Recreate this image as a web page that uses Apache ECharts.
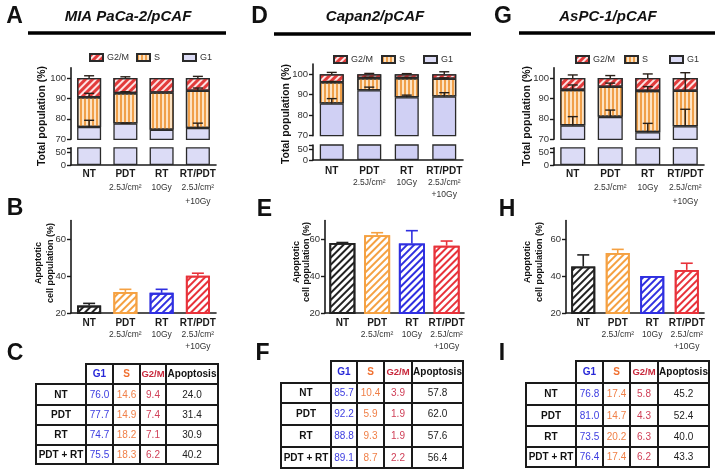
<!DOCTYPE html>
<html><head><meta charset="utf-8">
<script src="https://cdn.jsdelivr.net/npm/echarts@6/dist/echarts.min.js"></script>
<style>html,body{margin:0;padding:0;background:#fff}#c{width:723px;height:474px}</style>
</head><body><div id="c"></div>
<script>
// ---------- data ----------
const categories = ['NT', 'PDT', 'RT', 'RT/PDT'];
const categorySub = ['', '2.5J/cm²', '10Gy', '2.5J/cm²\n+10Gy'];
const phases = ['G2/M', 'S', 'G1'];
const panelTitles = ['MIA PaCa-2/pCAF', 'Capan2/pCAF', 'AsPC-1/pCAF'];
const topTicks = [70, 80, 90, 100];
const lowTicks = [0, 50];
const apopTicks = [20, 40, 60];
const tableRows = ['NT', 'PDT', 'RT', 'PDT + RT'];
const tableHeads = ['G1', 'S', 'G2/M', 'Apoptosis'];
const topYTitle = 'Total population (%)';
const apopYTitle = ['Apoptotic', 'cell population (%)'];

// MIA PaCa-2/pCAF
const miaG1 = [76.0, 77.7, 74.7, 75.5];
const miaS = [14.6, 14.9, 18.2, 18.3];
const miaG2M = [9.4, 7.4, 7.1, 6.2];
const miaG1Err = [3.3, 0.2, 0, 2.4];
const miaSErr = [1.9, 0.7, 0, 1.3];
const miaG2MErr = [1.1, 0.6, 0, 0.8];
const miaApop = [24.0, 31.4, 30.9, 40.2];
const miaApopErr = [1.2, 1.4, 1.9, 1.3];

// Capan2/pCAF
const capG1 = [85.7, 92.2, 88.8, 89.1];
const capS = [10.4, 5.9, 9.3, 8.7];
const capG2M = [3.9, 1.9, 1.9, 2.2];
const capG1Err = [2.4, 1.5, 1.0, 1.9];
const capSErr = [0.4, 0.4, 0.3, 0.4];
const capG2MErr = [0.9, 0.4, 0.3, 1.2];
const capApop = [57.8, 62.0, 57.6, 56.4];
const capApopErr = [0.3, 1.4, 6.9, 2.5];

// AsPC-1/pCAF
const aspG1 = [76.8, 81.0, 73.5, 76.4];
const aspS = [17.4, 14.7, 20.2, 17.4];
const aspG2M = [5.8, 4.3, 6.3, 6.2];
const aspG1Err = [4.3, 3.3, 4.3, 8.3];
const aspSErr = [2.4, 1.8, 2.1, 5.8];
const aspG2MErr = [1.5, 1.2, 2.0, 2.6];
const aspApop = [45.2, 52.4, 40.0, 43.3];
const aspApopErr = [6.2, 2.0, 0, 3.6];

// ---------- styling / layout ----------
const FONT = '"Liberation Sans", Arial, Helvetica, sans-serif';
const COL_G2M = '#e23b3b', COL_S = '#f0a04a';
const apopColors = ['#222222', '#f5a142', '#2f2fe0', '#e8323a'];
const headColors = ['#2828d8', '#f07030', '#c8283c', '#111111'];
const valColors = ['#3c3ce0', '#f08048', '#d04058', '#222222'];
const G1_COLORS = ['#dcdcf6', '#d0d0f4', '#dcdcf6'];

const datasets = [
  {g1: miaG1, s: miaS, g2m: miaG2M, g1e: miaG1Err, se: miaSErr, g2me: miaG2MErr, ap: miaApop, ape: miaApopErr},
  {g1: capG1, s: capS, g2m: capG2M, g1e: capG1Err, se: capSErr, g2me: capG2MErr, ap: capApop, ape: capApopErr},
  {g1: aspG1, s: aspS, g2m: aspG2M, g1e: aspG1Err, se: aspSErr, g2me: aspG2MErr, ap: aspApop, ape: aspApopErr}
];

const layouts = [
  { letters: [['A', 14.5, 16.5], ['B', 15, 208.5], ['C', 15, 353.5]],
    title: {x: 128, y: 17}, rule: {x1: 28, x2: 226, y: 33},
    leg: {y: 53, xs: [89, 136, 182]},
    top: {left: 71, width: 145, upTop: 67.8, upBot: 139.3, lowTop: 147.8, lowBot: 165, barW: 24, lh: 14, margin: 2},
    yTitle: {x: 42, y: 116},
    bot: {left: 71, width: 145, barW: 24},
    apTitle: {xs: [39, 51], y: 263},
    table: {xs: [36, 86, 113, 140, 166, 218], ys: [364, 384, 405, 425, 445, 464]} },
  { letters: [['D', 259.5, 16.5], ['E', 264.5, 209.5], ['F', 262.5, 353.5]],
    title: {x: 375, y: 17}, rule: {x1: 274, x2: 471, y: 34},
    leg: {y: 55, xs: [333, 381, 423]},
    top: {left: 313, width: 150, upTop: 64, upBot: 135.7, lowTop: 145, lowBot: 160, barW: 24, lh: 12, margin: 5},
    yTitle: {x: 286, y: 114},
    bot: {left: 325, width: 139, barW: 26},
    apTitle: {xs: [297, 307], y: 262},
    table: {xs: [281, 331, 357, 384, 412, 463], ys: [361, 383, 403, 425, 447, 468]} },
  { letters: [['G', 503, 16.5], ['H', 507, 210], ['I', 502, 353.5]],
    title: {x: 608, y: 17}, rule: {x1: 519, x2: 715, y: 33},
    leg: {y: 55, xs: [575, 624, 669]},
    top: {left: 554, width: 150, upTop: 67.8, upBot: 139.3, lowTop: 147.8, lowBot: 165, barW: 25, lh: 14, margin: 2},
    yTitle: {x: 527, y: 116},
    bot: {left: 566, width: 138, barW: 24},
    apTitle: {xs: [528, 540], y: 262},
    table: {xs: [526, 576, 603, 630, 658, 709], ys: [361, 383, 405, 426, 447, 467]} }
];

function phaseStyle(ph, i) {
  const base = {borderColor: '#2a2a2a', borderWidth: 1.3};
  if (ph === 'G1') return Object.assign({color: G1_COLORS[i]}, base);
  if (ph === 'S') return Object.assign({color: '#fde3c3',
    decal: {symbol: 'rect', symbolSize: 1, dashArrayX: [2, 2], dashArrayY: [1, 0], color: COL_S}}, base);
  return Object.assign({color: '#fde2e2',
    decal: {symbol: 'rect', symbolSize: 1, dashArrayX: [1, 0], dashArrayY: [2.5, 2], rotation: -Math.PI / 4, color: COL_G2M}}, base);
}

function catLabel(lh, fsB, fsN) {
  return {
    interval: 0, fontFamily: FONT,
    formatter: function (v) {
      let s = '{b|' + v + '}';
      const sub = categorySub[categories.indexOf(v)];
      if (sub) sub.split('\n').forEach(l => { s += '\n{n|' + l + '}'; });
      return s;
    },
    rich: {
      b: {fontWeight: 'bold', fontSize: fsB, lineHeight: lh, color: '#1a1a1a', fontFamily: FONT},
      n: {fontSize: fsN, lineHeight: lh, color: '#333', fontFamily: FONT}
    }
  };
}

function errRender(capHalf, colorFn, lw) {
  return function (params, api) {
    const k = api.value(0), lo = api.value(1), hi = api.value(2);
    if (!(hi > lo)) return null;
    const p0 = api.coord([k, lo]), p1 = api.coord([k, hi]);
    const col = colorFn(k);
    return {type: 'group', children: [
      {type: 'line', shape: {x1: p0[0], y1: p0[1], x2: p1[0], y2: p1[1]}, style: {stroke: col, lineWidth: lw}},
      {type: 'line', shape: {x1: p1[0] - capHalf, y1: p1[1], x2: p1[0] + capHalf, y2: p1[1]}, style: {stroke: col, lineWidth: lw}}
    ]};
  };
}

const axisLineStyle = {color: '#1a1a1a', width: 1.6};
const grid = [], xAxis = [], yAxis = [], series = [], legend = [], graphic = [];

datasets.forEach((d, i) => {
  const L = layouts[i];
  const gi = i * 3;
  grid.push({left: L.top.left, top: L.top.upTop, width: L.top.width, height: L.top.upBot - L.top.upTop, outerBoundsMode: 'none', containLabel: false});
  grid.push({left: L.top.left, top: L.top.lowTop, width: L.top.width, height: L.top.lowBot - L.top.lowTop, outerBoundsMode: 'none', containLabel: false});
  grid.push({left: L.bot.left, top: 220.5, width: L.bot.width, height: 92.5, outerBoundsMode: 'none', containLabel: false});
  xAxis.push({type: 'category', gridIndex: gi, data: categories, axisLine: {show: false}, axisTick: {show: false}, axisLabel: {show: false}, splitLine: {show: false}});
  xAxis.push({type: 'category', gridIndex: gi + 1, data: categories, axisLine: {show: true, lineStyle: axisLineStyle}, axisTick: {show: false},
    axisLabel: Object.assign({margin: L.top.margin}, catLabel(L.top.lh, 10, 8.5)), splitLine: {show: false}});
  xAxis.push({type: 'category', gridIndex: gi + 2, data: categories, axisLine: {show: true, lineStyle: axisLineStyle}, axisTick: {show: false},
    axisLabel: Object.assign({margin: 4}, catLabel(12, 10, 8.5)), splitLine: {show: false}});
  const yCommon = {type: 'value', splitLine: {show: false},
    axisLine: {show: true, lineStyle: axisLineStyle},
    axisTick: {show: true, length: 4, lineStyle: {color: '#1a1a1a', width: 1.4}}};
  yAxis.push(Object.assign({}, yCommon, {gridIndex: gi, min: 70, max: 105,
    axisTick: Object.assign({}, yCommon.axisTick, {customValues: topTicks}),
    axisLabel: {customValues: topTicks, fontSize: 9.5, color: '#333', margin: 5, fontFamily: FONT}}));
  yAxis.push(Object.assign({}, yCommon, {gridIndex: gi + 1, min: 0, max: 70,
    axisTick: Object.assign({}, yCommon.axisTick, {customValues: lowTicks.concat([70])}),
    axisLabel: {customValues: lowTicks, fontSize: 9.5, color: '#333', margin: 5, fontFamily: FONT}}));
  yAxis.push(Object.assign({}, yCommon, {gridIndex: gi + 2, min: 20, max: 70,
    axisTick: Object.assign({}, yCommon.axisTick, {customValues: apopTicks}),
    axisLabel: {customValues: apopTicks, fontSize: 9.5, color: '#333', margin: 5, fontFamily: FONT}}));

  const phaseData = {G1: d.g1, S: d.s, 'G2/M': d.g2m};
  ['G1', 'S', 'G2/M'].forEach(ph => {
    series.push({type: 'bar', name: ph, xAxisIndex: gi, yAxisIndex: gi, stack: 'st' + i, data: phaseData[ph],
      barWidth: L.top.barW, clip: true, itemStyle: phaseStyle(ph, i), silent: true});
  });
  series.push({type: 'bar', name: 'G1', xAxisIndex: gi + 1, yAxisIndex: gi + 1, data: d.g1,
    barWidth: L.top.barW, clip: true, itemStyle: phaseStyle('G1', i), silent: true});
  const errData = [];
  categories.forEach((c, k) => {
    const c1 = d.g1[k], c2 = c1 + d.s[k], c3 = c2 + d.g2m[k];
    errData.push([c, c1, c1 + d.g1e[k]], [c, c2, c2 + d.se[k]], [c, c3, c3 + d.g2me[k]]);
  });
  series.push({type: 'custom', name: 'err' + i, xAxisIndex: gi, yAxisIndex: gi, data: errData, z: 5, silent: true,
    encode: {x: 0, y: [1, 2]}, renderItem: errRender(5, () => '#2a2018', 1.4)});

  series.push({type: 'bar', name: 'apop' + i, xAxisIndex: gi + 2, yAxisIndex: gi + 2, barWidth: L.bot.barW, silent: true,
    data: d.ap.map((v, k) => ({value: v, itemStyle: {color: '#ffffff', borderColor: apopColors[k], borderWidth: 1.8,
      decal: {symbol: 'rect', symbolSize: 1, dashArrayX: [1, 0], dashArrayY: [1.6, 2.6], rotation: -Math.PI / 4, color: apopColors[k]}}}))});
  series.push({type: 'custom', name: 'apErr' + i, xAxisIndex: gi + 2, yAxisIndex: gi + 2, z: 5, silent: true,
    data: categories.map((c, k) => [c, d.ap[k], d.ap[k] + d.ape[k]]),
    encode: {x: 0, y: [1, 2]}, renderItem: errRender(6, k => apopColors[k], 1.6)});

  phases.forEach((ph, j) => {
    legend.push({data: [ph], left: L.leg.xs[j], top: L.leg.y, padding: 0, icon: 'rect', itemWidth: 13, itemHeight: 7,
      itemGap: 4, selectedMode: false, textStyle: {fontSize: 9, color: '#333', fontFamily: FONT, padding: [0, 0, 0, -1]}});
  });

  const ts = (t, font, fill) => ({text: t, font: font, fill: fill, align: 'center', verticalAlign: 'middle', textAlign: 'center', textVerticalAlign: 'middle'});
  L.letters.forEach(([t, x, y]) => graphic.push({type: 'text', x: x, y: y, style: ts(t, 'bold 23px ' + FONT, '#111')}));
  graphic.push({type: 'text', x: L.title.x, y: L.title.y, style: ts(panelTitles[i], 'italic bold 15px ' + FONT, '#111')});
  graphic.push({type: 'line', shape: {x1: L.rule.x1, y1: L.rule.y, x2: L.rule.x2, y2: L.rule.y}, style: {stroke: '#000', lineWidth: 3.5}});
  graphic.push({type: 'text', x: L.yTitle.x, y: L.yTitle.y, rotation: Math.PI / 2, style: ts(topYTitle, 'bold 10.5px ' + FONT, '#111')});
  apopYTitle.forEach((t, j) => graphic.push({type: 'text', x: L.apTitle.xs[j], y: L.apTitle.y, rotation: Math.PI / 2,
    style: ts(t, 'bold 9px ' + FONT, '#111')}));

  const xs = L.table.xs, ys = L.table.ys;
  const cellStyle = {fill: '#fff', stroke: '#1a1a1a', lineWidth: 2};
  const txt = (t, x, y, color, bold, fs) => ({type: 'text', x: x, y: y, z: 10,
    style: ts(t, (bold ? 'bold ' : '') + (fs || 10) + 'px ' + FONT, color)});
  tableHeads.forEach((h, c) => {
    graphic.push({type: 'rect', shape: {x: xs[c + 1], y: ys[0], width: xs[c + 2] - xs[c + 1], height: ys[1] - ys[0]}, style: cellStyle});
    graphic.push(txt(h, (xs[c + 1] + xs[c + 2]) / 2, (ys[0] + ys[1]) / 2 + 0.5, headColors[c], true, c === 2 ? 9.5 : 10));
  });
  tableRows.forEach((r, k) => {
    const y0 = ys[k + 1], y1 = ys[k + 2];
    const vals = [d.g1[k], d.s[k], d.g2m[k], d.ap[k]];
    for (let c = 0; c < 5; c++) {
      graphic.push({type: 'rect', shape: {x: xs[c], y: y0, width: xs[c + 1] - xs[c], height: y1 - y0}, style: cellStyle});
    }
    graphic.push(txt(r, (xs[0] + xs[1]) / 2, (y0 + y1) / 2 + 0.5, '#111', true));
    vals.forEach((v, c) => graphic.push(txt(v.toFixed(1), (xs[c + 1] + xs[c + 2]) / 2, (y0 + y1) / 2 + 0.5, valColors[c], false)));
  });
});

const chart = echarts.init(document.getElementById('c'), null, {renderer: 'canvas'});
chart.setOption({
  backgroundColor: '#ffffff',
  animation: false,
  textStyle: {fontFamily: FONT},
  grid: grid, xAxis: xAxis, yAxis: yAxis, series: series, legend: legend,
  graphic: {elements: graphic}
});
</script>
</body></html>
